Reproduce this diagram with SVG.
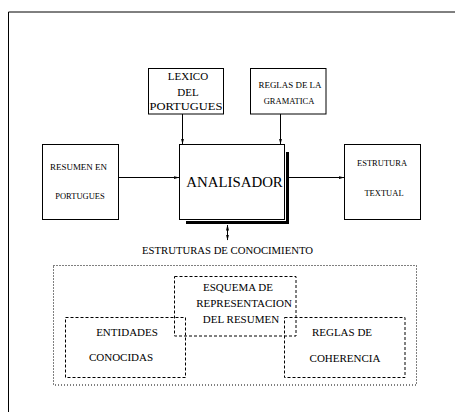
<svg xmlns="http://www.w3.org/2000/svg" width="455" height="412" viewBox="0 0 455 412">
<defs>
<marker id="ah" markerWidth="6" markerHeight="4" refX="5.5" refY="2" orient="auto" markerUnits="userSpaceOnUse">
<path d="M0,0.5 L6,2 L0,3.5 Z" fill="#000"/>
</marker>
<marker id="ahs" markerWidth="6" markerHeight="4" refX="0.5" refY="2" orient="auto" markerUnits="userSpaceOnUse">
<path d="M6,0.5 L0,2 L6,3.5 Z" fill="#000"/>
</marker>
</defs>
<style>
.box{fill:#fff;stroke:#000;stroke-width:1}
.dash{fill:none;stroke:#000;stroke-width:1;stroke-dasharray:3,2}
.dot{fill:none;stroke:#000;stroke-width:1;stroke-dasharray:1,2}
.t{font-family:"Liberation Serif","Times New Roman",serif;fill:#000;text-anchor:middle}
.s{font-size:8.5px}
.m{font-size:11px}
.l{font-size:15px}
.conn{stroke:#000;stroke-width:1;fill:none}
</style>
<rect width="455" height="412" fill="#fff"/>
<g id="frame">
<path d="M8.5,412 V12 H455" fill="none" stroke="#000" stroke-width="1"/>
</g>
<g id="connectors">
<line class="conn" x1="182.5" y1="114" x2="182.5" y2="144" marker-end="url(#ah)"/>
<line class="conn" x1="280.5" y1="114" x2="280.5" y2="144" marker-end="url(#ah)"/>
<line class="conn" x1="118" y1="177.5" x2="179" y2="177.5" marker-end="url(#ah)"/>
<line class="conn" x1="288" y1="177.5" x2="344" y2="177.5" marker-end="url(#ah)"/>
<line class="conn" x1="227.5" y1="225" x2="227.5" y2="240" marker-start="url(#ahs)" marker-end="url(#ah)"/>
</g>
<g id="lexico">
<rect class="box" x="148.5" y="68.5" width="75" height="45.5"/>
<text class="t m" x="188" y="80">LEXICO</text>
<text class="t m" x="188" y="96">DEL</text>
<text class="t m" x="186" y="109.5" textLength="73" lengthAdjust="spacingAndGlyphs">PORTUGUES</text>
</g>
<g id="reglas-gramatica">
<rect class="box" x="250.5" y="68.5" width="75.5" height="45.5"/>
<text class="t s" x="290" y="87.5" textLength="63" lengthAdjust="spacingAndGlyphs">REGLAS DE LA</text>
<text class="t s" x="289" y="104">GRAMATICA</text>
</g>
<g id="resumen">
<rect class="box" x="42.5" y="144.5" width="76" height="75"/>
<text class="t s" x="78.5" y="169.5" textLength="57" lengthAdjust="spacingAndGlyphs">RESUMEN EN</text>
<text class="t s" x="80" y="198.5">PORTUGUES</text>
</g>
<g id="analisador">
<path d="M186,222.5 H287.5 V152" fill="none" stroke="#000" stroke-width="3"/>
<rect class="box" x="179.5" y="144.5" width="105" height="75"/>
<text class="t l" x="234.5" y="187" textLength="96.5" lengthAdjust="spacingAndGlyphs">ANALISADOR</text>
</g>
<g id="estrutura-textual">
<rect class="box" x="344.5" y="144.5" width="76" height="75"/>
<text class="t s" x="382" y="166">ESTRUTURA</text>
<text class="t s" x="384" y="195.5">TEXTUAL</text>
</g>
<g id="estruturas-conocimiento">
<text class="t m" x="227.5" y="254" textLength="171" lengthAdjust="spacingAndGlyphs">ESTRUTURAS DE CONOCIMIENTO</text>
<rect class="dot" x="53.5" y="265.5" width="363" height="119.5"/>
</g>
<g id="esquema">
<rect class="dash" x="174.5" y="276.5" width="121.5" height="59.5"/>
<text class="t m" x="238" y="291">ESQUEMA DE</text>
<text class="t m" x="244" y="307">REPRESENTACION</text>
<text class="t m" x="241" y="323">DEL RESUMEN</text>
</g>
<g id="entidades">
<rect class="dash" x="65.5" y="317.5" width="120" height="60"/>
<text class="t m" x="127" y="336">ENTIDADES</text>
<text class="t m" x="121" y="361">CONOCIDAS</text>
</g>
<g id="reglas-coherencia">
<rect class="dash" x="284.5" y="317.5" width="120.5" height="60"/>
<text class="t m" x="342" y="336">REGLAS DE</text>
<text class="t m" x="345" y="362">COHERENCIA</text>
</g>
</svg>
